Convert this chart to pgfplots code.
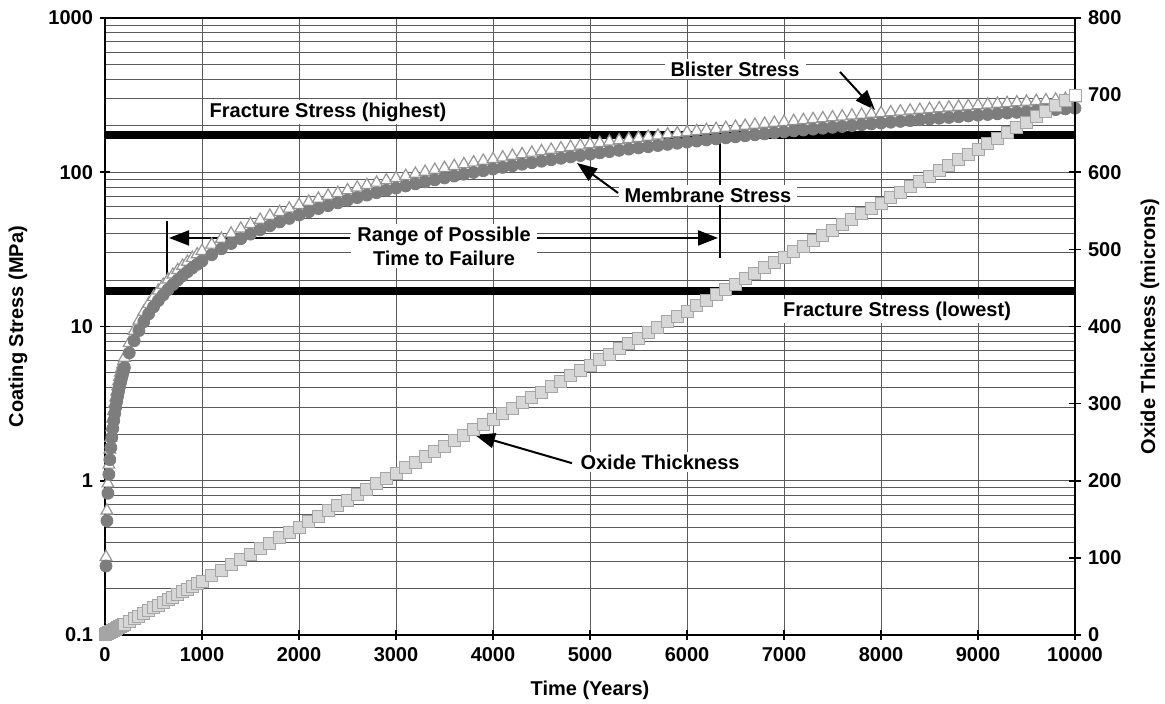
\documentclass[border=0pt]{standalone}
\usepackage{fontspec}
\setmainfont{Liberation Sans}
\usepackage{pgfplots}
\usepackage{pgfplotstable}
\pgfplotsset{compat=1.18}
\usetikzlibrary{arrows.meta}

\definecolor{membr}{RGB}{125,125,125}
\definecolor{blist}{RGB}{150,150,150}
\definecolor{oxfill}{RGB}{215,215,215}
\definecolor{oxdraw}{RGB}{165,165,165}
\definecolor{gridc}{RGB}{90,90,90}

% t = years, M = membrane stress, B = blister stress (MPa), ox = oxide thickness (microns)
\pgfplotstableread{
t M B ox
10 0.28 0.32 0.7
20 0.55 0.64 1.4
30 0.83 0.96 2.1
40 1.10 1.27 2.8
50 1.37 1.59 3.5
60 1.64 1.90 4.2
70 1.91 2.22 4.9
80 2.18 2.53 5.6
90 2.45 2.84 6.3
100 2.72 3.16 7.0
110 2.99 3.47 7.7
120 3.26 3.78 8.4
130 3.53 4.09 9.1
140 3.80 4.41 9.8
150 4.07 4.72 10.5
160 4.33 5.03 11.2
170 4.60 5.34 11.9
180 4.87 5.65 12.6
190 5.14 5.96 13.3
200 5.41 6.27 14.0
250 6.74 7.82 17.5
300 8.08 9.37 21.0
350 9.41 10.91 24.5
400 10.74 12.45 28.0
450 12.07 14.00 31.5
500 13.39 15.53 35.0
550 14.72 17.07 38.5
600 16.04 18.61 42.0
650 17.36 20.14 45.5
700 18.69 21.67 49.0
750 20.01 23.21 52.5
800 21.33 24.74 56.0
850 22.64 26.27 59.5
900 23.96 27.80 63.0
950 25.28 29.32 66.5
1000 26.60 30.85 70.0
1100 29.2 33.9 77
1200 31.9 37.0 84
1300 34.5 40.0 91
1400 37.1 43.1 98
1500 39.7 46.1 105
1600 42.4 49.1 112
1700 45.0 52.2 119
1800 47.6 55.2 126
1900 50.2 58.2 133
2000 52.8 61.3 140
2100 55.4 64.3 147
2200 58.1 67.3 154
2300 60.7 70.4 161
2400 63.3 73.4 168
2500 65.9 76.4 175
2600 68.5 79.5 182
2700 71.1 82.5 189
2800 73.7 85.5 196
2900 76.3 88.5 203
3000 78.9 91.6 210
3100 81.5 94.6 217
3200 84.1 97.6 224
3300 86.7 100.6 231
3400 89.3 103.6 238
3500 91.9 106.6 245
3600 94.5 109.7 252
3700 97.1 112.7 259
3800 99.7 115.7 266
3900 102.3 118.7 273
4000 104.9 121.7 280
4100 107.5 124.7 287
4200 110.1 127.7 294
4300 112.7 130.8 301
4400 115.3 133.8 308
4500 117.9 136.8 315
4600 120.5 139.8 322
4700 123.1 142.8 329
4800 125.7 145.8 336
4900 128.3 148.8 343
5000 130.9 151.8 350
5100 133.5 154.8 357
5200 136.1 157.8 364
5300 138.6 160.8 371
5400 141.2 163.8 378
5500 143.8 166.8 385
5600 146.4 169.8 392
5700 149.0 172.8 399
5800 151.6 175.8 406
5900 154.2 178.8 413
6000 156.8 181.8 420
6100 159.3 184.8 427
6200 161.9 187.8 434
6300 164.5 190.8 441
6400 167.1 193.8 448
6500 169.7 196.8 455
6600 172.3 199.8 462
6700 174.9 202.8 469
6800 177.4 205.8 476
6900 180.0 208.8 483
7000 182.6 211.8 490
7100 185.2 214.8 497
7200 187.8 217.8 504
7300 190.3 220.8 511
7400 192.9 223.8 518
7500 195.5 226.8 525
7600 198.1 229.8 532
7700 200.7 232.8 539
7800 203.3 235.8 546
7900 205.8 238.8 553
8000 208.4 241.8 560
8100 211.0 244.7 567
8200 213.6 247.7 574
8300 216.1 250.7 581
8400 218.7 253.7 588
8500 221.3 256.7 595
8600 223.9 259.7 602
8700 226.5 262.7 609
8800 229.0 265.7 616
8900 231.6 268.7 623
9000 234.2 271.7 630
9100 236.8 274.6 637
9200 239.3 277.6 644
9300 241.9 280.6 651
9400 244.5 283.6 658
9500 247.1 286.6 665
9600 249.6 289.6 672
9700 252.2 292.6 679
9800 254.8 295.5 686
9900 257.4 298.5 693
10000 259.9 301.5 700
}\stress

\begin{document}
\begin{tikzpicture}[font=\bfseries\fontsize{10}{12}\selectfont,
    lbl/.style={fill=white, inner xsep=3pt, inner ysep=1.5pt, align=center},
    arr/.style={line width=1pt, -{Triangle[length=10pt,width=7.5pt]}}]
  \begin{axis}[
      scale only axis, width=485pt, height=308.5pt,
      clip=false,
      xmin=0, xmax=10000,
      ymode=log, ymin=0.1, ymax=1000,
      scaled x ticks=false,
      xtick={0,1000,2000,3000,4000,5000,6000,7000,8000,9000,10000},
      xticklabels={0,1000,2000,3000,4000,5000,6000,7000,8000,9000,10000},
      ytick={0.1,1,10,100,1000},
      yticklabels={0.1,1,10,100,1000},
      minor ytick={0.2,0.3,0.4,0.5,0.6,0.7,0.8,0.9,2,3,4,5,6,7,8,9,20,30,40,50,60,70,80,90,200,300,400,500,600,700,800,900},
      xtick pos=bottom, ytick pos=left,
      tick align=center, major tick length=5pt, minor tick length=0pt,
      tick style={black, line width=0.8pt},
      tick label style={font=\bfseries\fontsize{10}{12}\selectfont},
      xmajorgrids, ymajorgrids, yminorgrids,
      major grid style={gridc, line width=0.5pt},
      minor grid style={gridc, line width=0.5pt},
      axis line style={line width=1pt},
      xlabel={Time (Years)},
      xlabel style={at={(axis description cs:0.5,-0.089)}, anchor=center},
      ylabel={Coating Stress (MPa)},
      ylabel style={at={(axis description cs:-0.0897,0.5)}, anchor=center},
    ]
    \addplot[only marks, mark=triangle*, mark size=3.4pt, draw=blist, fill=white, line width=0.6pt]
      table[x=t, y=B] {\stress};
    \addplot[only marks, mark=*, mark size=3.0pt, draw=membr, fill=membr]
      table[x=t, y=M] {\stress};

    % fracture stress limits
    \addplot[black, line width=4pt, no marks] coordinates {(0,175) (10000,175)};
    \addplot[black, line width=4pt, no marks] coordinates {(0,17) (10000,17)};

    % range of possible time to failure
    \draw[line width=1pt] (axis cs:639,17) -- (axis cs:639,48);
    \draw[line width=1pt] (axis cs:6340,176) -- (axis cs:6340,28);
    \draw[arr] (axis cs:2526,37.5) -- (axis cs:660,37.5);
    \draw[arr] (axis cs:4433,37.5) -- (axis cs:6320,37.5);
    \node[lbl] at (axis cs:3495,33.3) {Range of Possible\\Time to Failure};

    \node[lbl] at (axis cs:2299,246) {Fracture Stress (highest)};
    \node[lbl] at (axis cs:8165,12.6) {Fracture Stress (lowest)};

    \draw[arr] (axis cs:5289,73.4) -- (axis cs:4866,114.8);
    \node[lbl] at (axis cs:6216,71.2) {Membrane Stress};

    \draw[arr] (axis cs:7577,447) -- (axis cs:7938,253);
    \node[lbl] at (axis cs:6495,467) {Blister Stress};

    \draw[arr] (axis cs:4814,1.30) -- (axis cs:3814,1.98);
    \node[lbl] at (axis cs:5722,1.32) {Oxide Thickness};
  \end{axis}

  \begin{axis}[
      scale only axis, width=485pt, height=308.5pt,
      clip=false,
      xmin=0, xmax=10000,
      ymin=0, ymax=800,
      axis y line*=right, axis x line=none,
      ytick={0,100,200,300,400,500,600,700,800},
      yticklabels={0,100,200,300,400,500,600,700,800},
      tick align=center, major tick length=6pt,
      tick style={black, line width=0.8pt},
      tick label style={font=\bfseries\fontsize{10}{12}\selectfont},
      axis line style={line width=1pt},
      ylabel={Oxide Thickness (microns)},
      ylabel style={at={(axis description cs:1.0773,0.5)}, anchor=center},
    ]
    \addplot[only marks, mark=square*, mark size=3.0pt, draw=oxdraw, fill=oxfill, line width=0.5pt]
      table[x=t, y=ox] {\stress};
    \addplot[only marks, mark=square*, mark size=3.0pt, draw=oxdraw, fill=white, line width=0.5pt]
      coordinates {(10000,700)};
  \end{axis}

  \pgfresetboundingbox
  \path[use as bounding box] (-52.5pt,-34.5pt) rectangle (530pt,317.5pt);
\end{tikzpicture}
\end{document}
